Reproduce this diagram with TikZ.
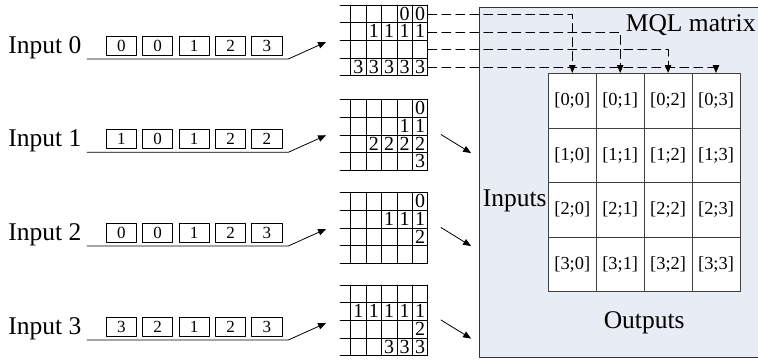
\documentclass[tikz,border=0pt]{standalone}
\usepackage{fontspec}
\setmainfont{Liberation Serif}
\usepackage{pgf,tikz}
\usetikzlibrary{arrows}
\definecolor{mqlfill}{RGB}{232,236,244}

\tikzset{
  big/.style={inner sep=0pt, font=\fontsize{25.5}{28}\selectfont},
  inbox/.style={draw, minimum width=30.3, minimum height=19, inner sep=0pt, font=\fontsize{17}{17}\selectfont},
  cell/.style={draw=black!75, fill=white, minimum width=47.9, minimum height=54.6, inner sep=0pt, font=\fontsize{18.4}{20}\selectfont},
  digit/.style={inner sep=0pt, anchor=base, font=\fontsize{20}{20}\selectfont},
}

\begin{document}
\begin{tikzpicture}[line cap=round,line join=round,>=triangle 45,x=1pt,y=-1pt,line width=0.8pt]
\useasboundingbox (0,0) rectangle (758,359);
\node[draw=black!80, fill=mqlfill, anchor=north west, minimum width=283, minimum height=349.4, inner sep=0pt] (mql) at (479.3,7.3) {};
\node[big, anchor=base west] (mqltitle) at (625.5,31.7) {MQL matrix};
\node[big, anchor=base west] (inlabel) at (482.5,206) {Inputs};
\node[big, anchor=base] (outlabel) at (644.2,328.5) {Outputs};
\foreach \r in {0,...,3}
  \foreach \c in {0,...,3}
    \node[cell] (m-\r-\c) at ({572.3+47.9*\c},{100.6+54.6*\r}) {[\r;\c]};
\foreach \i/\vals/\ly in {0/{0,0,1,2,3}/59, 1/{1,0,1,2,2}/152.3, 2/{0,0,1,2,3}/246, 3/{3,2,1,2,3}/340} {
  \node[big, anchor=base west] (in\i) at (8,\ly-6) {Input \i};
  \foreach \v [count=\k from 0] in \vals
    \node[inbox] (b\i-\k) at ({121.3+36.4*\k},\ly-13.5) {\v};
  \coordinate (l\i) at (87,\ly);
  \coordinate (k\i) at (288.3,\ly);
  \coordinate (p\i) at (326,\ly-17);
  \draw[->] (l\i) -- (k\i) -- (p\i);
}
\foreach \g/\t/\cnt in {0/5/{2,4,0,5}, 1/99.5/{1,2,4,1}, 2/192.5/{1,3,1,0}, 3/285/{0,5,1,3}} {
  \node[minimum width=87.7, minimum height=70.8, inner sep=0pt, anchor=north west] (grid\g) at (340,\t) {};
  \foreach \r in {0,...,4} \draw (340,\t+17.7*\r) -- (427.7,\t+17.7*\r);
  \foreach \c in {0,...,5} \draw (350.7+15.4*\c,\t) -- (350.7+15.4*\c,\t+70.8);
  \foreach \n [count=\r from 0] in \cnt {
    \foreach \c in {1,...,5} {
      \ifnum\c>\numexpr5-\n\relax
        \node[digit] (g\g-\r-\c) at (343+15.4*\c,\t+17.7*\r+15.2) {\r};
      \fi
    }
  }
  \ifnum\g>0
    \coordinate (a\g) at (441,\t+35);
    \coordinate (e\g) at (471,\t+53.5);
    \draw[->] (a\g) -- (e\g);
  \fi
}
\foreach \r in {0,...,3} {
  \coordinate (d\r) at (427.7,14.2+17.7*\r);
  \draw[->, dash pattern=on 9pt off 5pt] (d\r) -| (m-0-\r.north);
}
\end{tikzpicture}
\end{document}
